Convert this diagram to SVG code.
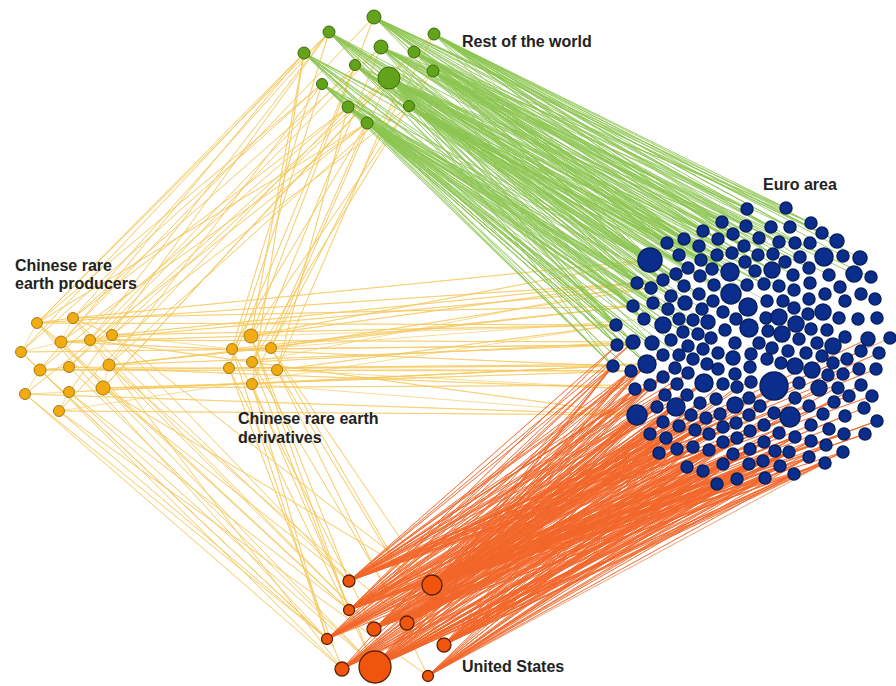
<svg xmlns="http://www.w3.org/2000/svg" width="896" height="686" viewBox="0 0 896 686">
<style>
.e{fill:#0b2d8c;stroke:#08205f;stroke-width:1.5}
.g{fill:#62a31b;stroke:#3b6a0c;stroke-width:1}
.y{fill:#f2ab10;stroke:#9b7313;stroke-width:.9}
.u{fill:#f0550e;stroke:#5e2205;stroke-width:1.3}
.ly{fill:none;stroke:#f5c95e;stroke-width:.65;stroke-linejoin:round}
.lg{fill:none;stroke:#8dc653;stroke-width:.55;stroke-linejoin:round}
.lo{fill:none;stroke:#f2672b;stroke-width:.65;stroke-linejoin:round}
text{font-family:"Liberation Sans",Arial,sans-serif;font-weight:bold;font-size:16px;fill:#222}
</style>
<rect width="896" height="686" fill="#fff"/>
<g id="connectors">
<path class="ly" d="M37 323L304 53 37 323 329 32 37 323 322 84 37 323 367 123 37 323 327 639 37 323 349 610 37 323 616 325 37 323 637 283 37 323 73 318 37 323 61 342 37 323 21 352"/>
<path class="ly" d="M73 318L329 32 73 318 381 47 73 318 348 107 73 318 349 581 73 318 342 669 73 318 633 306 73 318 650 260 73 318 112 335 73 318 61 342"/>
<path class="ly" d="M21 352L304 53 21 352 322 84 21 352 327 639 21 352 617 345 21 352 40 370 21 352 61 342"/>
<path class="ly" d="M61 342L374 17 61 342 367 123 61 342 349 610 61 342 375 667 61 342 613 366 61 342 651 288 61 342 251 336 61 342 90 340"/>
<path class="ly" d="M90 340L329 32 90 340 355 65 90 340 374 629 90 340 633 342 90 340 637 415 90 340 112 335"/>
<path class="ly" d="M112 335L389 78 112 335 409 106 112 335 349 581 112 335 432 585 112 335 616 325 112 335 663 280 112 335 232 349"/>
<path class="ly" d="M40 370L304 53 40 370 348 107 40 370 342 669 40 370 327 639 40 370 631 371 40 370 647 364 40 370 69 367 40 370 25 394"/>
<path class="ly" d="M69 367L381 47 69 367 434 34 69 367 375 667 69 367 635 389 69 367 229 368"/>
<path class="ly" d="M109 365L322 84 109 365 433 71 109 365 374 629 109 365 407 623 109 365 617 345 109 365 633 306 109 365 271 348 109 365 103 388"/>
<path class="ly" d="M25 394L367 123 25 394 342 669 25 394 327 639 25 394 637 415 25 394 69 392"/>
<path class="ly" d="M69 392L329 32 69 392 349 610 69 392 375 667 69 392 613 366 69 392 59 411"/>
<path class="ly" d="M103 388L389 78 103 388 414 52 103 388 349 581 103 388 432 585 103 388 650 385 103 388 631 371 103 388 252 384"/>
<path class="ly" d="M59 411L348 107 59 411 327 639 59 411 428 676 59 411 637 415 59 411 616 325"/>
<path class="ly" d="M251 336L304 53 251 336 374 17 251 336 433 71 251 336 349 581 251 336 349 610 251 336 637 283 251 336 650 260 251 336 616 325"/>
<path class="ly" d="M232 349L329 32 232 349 367 123 232 349 327 639 232 349 374 629 232 349 633 306 232 349 617 345"/>
<path class="ly" d="M271 348L389 78 271 348 434 34 271 348 432 585 271 348 444 645 271 348 651 288 271 348 644 319"/>
<path class="ly" d="M229 368L322 84 229 368 355 65 229 368 342 669 229 368 375 667 229 368 613 366 229 368 631 371"/>
<path class="ly" d="M252 362L381 47 252 362 409 106 252 362 349 610 252 362 407 623 252 362 633 342 252 362 663 280"/>
<path class="ly" d="M277 370L414 52 277 370 348 107 277 370 428 676 277 370 444 645 277 370 616 325 277 370 635 389"/>
<path class="ly" d="M252 384L304 53 252 384 367 123 252 384 327 639 252 384 375 667 252 384 647 364 252 384 637 415"/>
<path class="lg" d="M374 17L650 260 374 17 667 243 374 17 684 239 374 17 703 231 374 17 722 222 374 17 747 209 374 17 786 208 374 17 811 223 374 17 771 227 374 17 679 255 374 17 701 260 374 17 637 283 374 17 663 280 374 17 730 272 374 17 746 226 374 17 733 234 374 17 699 246 374 17 718 239 374 17 837 241 374 17 822 233 374 17 758 255"/>
<path class="lg" d="M434 34L747 209 434 34 786 208 434 34 811 223 434 34 790 227 434 34 771 227 434 34 822 233 434 34 837 241 434 34 795 243 434 34 779 242 434 34 746 226 434 34 733 234 434 34 722 222 434 34 703 231 434 34 718 239 434 34 744 246 434 34 758 255 434 34 773 254 434 34 800 257 434 34 824 257 434 34 843 256 434 34 860 258 434 34 650 260 434 34 667 243 434 34 684 239"/>
<path class="lg" d="M389 78L650 260 389 78 667 243 389 78 684 239 389 78 703 231 389 78 722 222 389 78 679 255 389 78 701 260 389 78 717 255 389 78 732 253 389 78 637 283 389 78 663 280 389 78 676 274 389 78 688 268 389 78 712 269 389 78 730 272 389 78 651 288 389 78 671 296 389 78 699 294 389 78 685 303 389 78 633 306 389 78 653 303 389 78 668 309 389 78 644 319 389 78 616 325 389 78 663 325 389 78 633 342 389 78 617 345 389 78 652 343 389 78 647 364 389 78 613 366 389 78 755 271 389 78 772 270 389 78 747 285 389 78 764 284 389 78 731 294 389 78 746 226 389 78 733 234 389 78 699 246 389 78 718 239"/>
<path class="lg" d="M381 47L650 260 381 47 684 239 381 47 703 231 381 47 722 222 381 47 747 209 381 47 786 208 381 47 701 260 381 47 717 255 381 47 730 272 381 47 663 280 381 47 637 283 381 47 651 288 381 47 616 325 381 47 633 306 381 47 744 246 381 47 759 238 381 47 779 242 381 47 795 243 381 47 772 270 381 47 755 271"/>
<path class="lg" d="M414 52L747 209 414 52 722 222 414 52 746 226 414 52 771 227 414 52 790 227 414 52 811 223 414 52 733 234 414 52 703 231 414 52 759 238 414 52 779 242 414 52 744 246 414 52 758 255 414 52 773 254 414 52 785 262 414 52 650 260 414 52 667 243 414 52 699 246 414 52 730 272 414 52 712 269 414 52 747 285"/>
<path class="lg" d="M433 71L650 260 433 71 667 243 433 71 684 239 433 71 679 255 433 71 701 260 433 71 717 255 433 71 732 253 433 71 745 262 433 71 758 255 433 71 772 270 433 71 755 271 433 71 793 275 433 71 809 268 433 71 829 275 433 71 854 274 433 71 871 277 433 71 637 283 433 71 663 280 433 71 688 268 433 71 730 272"/>
<path class="lg" d="M329 32L650 260 329 32 637 283 329 32 651 288 329 32 633 306 329 32 616 325 329 32 644 319 329 32 667 243 329 32 684 239 329 32 703 231 329 32 679 255 329 32 663 280 329 32 676 274 329 32 700 276 329 32 730 272 329 32 617 345 329 32 633 342"/>
<path class="lg" d="M304 53L650 260 304 53 637 283 304 53 616 325 304 53 633 306 304 53 653 303 304 53 663 325 304 53 633 342 304 53 617 345 304 53 613 366 304 53 647 364 304 53 679 255 304 53 667 243 304 53 701 260"/>
<path class="lg" d="M355 65L650 260 355 65 637 283 355 65 663 280 355 65 676 274 355 65 688 268 355 65 700 276 355 65 651 288 355 65 684 286 355 65 699 294 355 65 671 296 355 65 616 325 355 65 633 306 355 65 644 319 355 65 703 231 355 65 722 222"/>
<path class="lg" d="M322 84L650 260 322 84 637 283 322 84 651 288 322 84 633 306 322 84 616 325 322 84 617 345 322 84 613 366 322 84 631 371 322 84 647 364 322 84 663 355 322 84 679 319 322 84 693 320 322 84 708 322"/>
<path class="lg" d="M348 107L650 260 348 107 637 283 348 107 663 280 348 107 651 288 348 107 671 296 348 107 633 306 348 107 653 303 348 107 668 309 348 107 644 319 348 107 663 325 348 107 679 319 348 107 616 325 348 107 633 342 348 107 652 343 348 107 617 345 348 107 613 366 348 107 647 364 348 107 683 332 348 107 698 334 348 107 711 338"/>
<path class="lg" d="M409 106L650 260 409 106 667 243 409 106 679 255 409 106 701 260 409 106 717 255 409 106 732 253 409 106 637 283 409 106 663 280 409 106 676 274 409 106 700 276 409 106 712 269 409 106 730 272 409 106 684 286 409 106 699 294 409 106 714 285 409 106 747 285 409 106 764 284 409 106 779 286 409 106 731 294 409 106 685 303 409 106 702 309 409 106 723 312 409 106 748 307 409 106 767 301"/>
<path class="lg" d="M367 123L650 260 367 123 637 283 367 123 651 288 367 123 663 280 367 123 671 296 367 123 633 306 367 123 616 325 367 123 644 319 367 123 663 325 367 123 683 332 367 123 698 334 367 123 633 342 367 123 652 343 367 123 671 340 367 123 617 345 367 123 613 366 367 123 647 364 367 123 663 355 367 123 679 355 367 123 631 371"/>
<path class="lo" d="M432 585L613 366 432 585 631 371 432 585 647 364 432 585 635 389 432 585 650 385 432 585 663 377 432 585 637 415 432 585 657 407 432 585 676 407 432 585 665 395 432 585 687 395 432 585 663 422 432 585 679 426 432 585 650 434 432 585 666 438 432 585 659 453 432 585 677 449 432 585 693 447 432 585 687 467 432 585 703 471 432 585 717 484 432 585 737 479 432 585 765 478 432 585 709 450 432 585 695 430 432 585 691 415 432 585 704 383 432 585 723 464 432 585 733 454 432 585 749 464 432 585 763 461 432 585 780 466 432 585 794 474 432 585 709 434 432 585 723 442 432 585 706 418 432 585 720 414 432 585 700 403 432 585 716 399 432 585 735 405 432 585 677 384 432 585 688 373 432 585 774 386 432 585 790 417 432 585 750 449 432 585 775 451 432 585 789 452 432 585 809 457 432 585 825 463 432 585 843 452 432 585 779 433 432 585 795 437 432 585 811 441 432 585 826 445 432 585 844 434 432 585 865 434 432 585 877 421 432 585 864 408 432 585 845 416"/>
<path class="lo" d="M375 667L613 366 375 667 631 371 375 667 647 364 375 667 635 389 375 667 650 385 375 667 637 415 375 667 657 407 375 667 676 407 375 667 665 395 375 667 663 422 375 667 679 426 375 667 650 434 375 667 666 438 375 667 659 453 375 667 677 449 375 667 693 447 375 667 687 467 375 667 703 471 375 667 717 484 375 667 737 479 375 667 765 478 375 667 709 450 375 667 695 430 375 667 723 464 375 667 733 454 375 667 749 464 375 667 763 461 375 667 780 466 375 667 794 474 375 667 723 442 375 667 737 438 375 667 750 449 375 667 775 451 375 667 789 452 375 667 809 457 375 667 825 463 375 667 843 452 375 667 826 445 375 667 811 441 375 667 795 437 375 667 779 433 375 667 764 442 375 667 749 431"/>
<path class="lo" d="M349 581L617 345 349 581 633 342 349 581 613 366 349 581 631 371 349 581 647 364 349 581 663 355 349 581 675 368 349 581 688 373 349 581 704 383 349 581 635 389 349 581 650 385 349 581 663 377 349 581 677 384 349 581 637 415 349 581 657 407 349 581 676 407 349 581 691 415 349 581 706 418 349 581 720 414 349 581 735 405 349 581 749 415 349 581 759 406 349 581 773 412 349 581 790 417 349 581 809 406 349 581 834 402 349 581 849 396 349 581 872 396 349 581 876 369 349 581 859 369 349 581 879 353 349 581 861 351 349 581 868 339 349 581 890 338"/>
<path class="lo" d="M349 610L613 366 349 610 631 371 349 610 635 389 349 610 650 385 349 610 637 415 349 610 657 407 349 610 663 422 349 610 650 434 349 610 666 438 349 610 679 426 349 610 695 430 349 610 709 434 349 610 723 427 349 610 736 423 349 610 764 425 349 610 779 433 349 610 795 437 349 610 811 425 349 610 829 429 349 610 844 434 349 610 865 434 349 610 877 421 349 610 617 345 349 610 633 342 349 610 647 364 349 610 663 377 349 610 677 384 349 610 704 383 349 610 691 415 349 610 706 418 349 610 720 414"/>
<path class="lo" d="M374 629L637 415 374 629 663 422 374 629 650 434 374 629 666 438 374 629 659 453 374 629 677 449 374 629 693 447 374 629 709 450 374 629 733 454 374 629 750 449 374 629 775 451 374 629 789 452 374 629 687 467 374 629 703 471 374 629 723 464 374 629 749 464 374 629 763 461 374 629 780 466 374 629 717 484 374 629 737 479 374 629 765 478 374 629 794 474 374 629 809 457 374 629 825 463 374 629 631 371 374 629 647 364 374 629 635 389 374 629 650 385 374 629 657 407 374 629 676 407 374 629 691 415 374 629 706 418 374 629 720 414 374 629 735 405"/>
<path class="lo" d="M407 623L631 371 407 623 647 364 407 623 663 377 407 623 677 384 407 623 688 373 407 623 704 383 407 623 723 384 407 623 737 387 407 623 749 381 407 623 774 386 407 623 799 383 407 623 819 388 407 623 838 387 407 623 861 385 407 623 650 434 407 623 666 438 407 623 679 426 407 623 695 430 407 623 709 434 407 623 723 442 407 623 737 438 407 623 749 431 407 623 764 442 407 623 613 366 407 623 635 389 407 623 650 385 407 623 637 415 407 623 657 407 407 623 676 407 407 623 665 395 407 623 687 395 407 623 700 403 407 623 716 399"/>
<path class="lo" d="M327 639L613 366 327 639 635 389 327 639 637 415 327 639 650 434 327 639 659 453 327 639 663 422 327 639 666 438 327 639 677 449 327 639 687 467 327 639 703 471 327 639 717 484 327 639 693 447 327 639 709 450 327 639 631 371 327 639 650 385 327 639 657 407 327 639 676 407 327 639 679 426 327 639 695 430 327 639 709 434 327 639 723 442 327 639 737 438"/>
<path class="lo" d="M444 645L637 415 444 645 650 434 444 645 659 453 444 645 677 449 444 645 693 447 444 645 687 467 444 645 703 471 444 645 717 484 444 645 737 479 444 645 765 478 444 645 794 474 444 645 780 466 444 645 763 461 444 645 749 464 444 645 723 464 444 645 733 454 444 645 750 449 444 645 775 451 444 645 789 452 444 645 809 457 444 645 825 463 444 645 843 452 444 645 663 422 444 645 679 426 444 645 695 430 444 645 709 434 444 645 723 442 444 645 737 438 444 645 749 431 444 645 764 442 444 645 779 433 444 645 795 437 444 645 811 441"/>
<path class="lo" d="M342 669L637 415 342 669 650 434 342 669 659 453 342 669 687 467 342 669 703 471 342 669 717 484 342 669 737 479 342 669 677 449 342 669 693 447 342 669 666 438 342 669 679 426 342 669 663 422 342 669 635 389 342 669 613 366 342 669 657 407 342 669 676 407 342 669 709 450 342 669 723 464 342 669 749 464 342 669 765 478"/>
<path class="lo" d="M428 676L659 453 428 676 687 467 428 676 703 471 428 676 717 484 428 676 737 479 428 676 765 478 428 676 794 474 428 676 780 466 428 676 763 461 428 676 749 464 428 676 723 464 428 676 733 454 428 676 709 450 428 676 677 449 428 676 693 447 428 676 750 449 428 676 775 451 428 676 789 452 428 676 809 457 428 676 825 463"/>
</g>
<g id="producers">
<g id="p1"><circle class="y" cx="37" cy="323" r="5.5"/></g>
<g id="p2"><circle class="y" cx="73" cy="318" r="5.5"/></g>
<g id="p3"><circle class="y" cx="21" cy="352" r="5.5"/></g>
<g id="p4"><circle class="y" cx="61" cy="342" r="6"/></g>
<g id="p5"><circle class="y" cx="90" cy="340" r="5.5"/></g>
<g id="p6"><circle class="y" cx="112" cy="335" r="5.5"/></g>
<g id="p7"><circle class="y" cx="40" cy="370" r="6"/></g>
<g id="p8"><circle class="y" cx="69" cy="367" r="5.5"/></g>
<g id="p9"><circle class="y" cx="109" cy="365" r="6"/></g>
<g id="p10"><circle class="y" cx="25" cy="394" r="5.5"/></g>
<g id="p11"><circle class="y" cx="69" cy="392" r="5.5"/></g>
<g id="p12"><circle class="y" cx="103" cy="388" r="7"/></g>
<g id="p13"><circle class="y" cx="59" cy="411" r="5.5"/></g>
</g>
<g id="derivatives">
<g id="d1"><circle class="y" cx="251" cy="336" r="7"/></g>
<g id="d2"><circle class="y" cx="232" cy="349" r="5.5"/></g>
<g id="d3"><circle class="y" cx="271" cy="348" r="5.5"/></g>
<g id="d4"><circle class="y" cx="229" cy="368" r="5.5"/></g>
<g id="d5"><circle class="y" cx="252" cy="362" r="5.5"/></g>
<g id="d6"><circle class="y" cx="277" cy="370" r="5.5"/></g>
<g id="d7"><circle class="y" cx="252" cy="384" r="5.5"/></g>
</g>
<g id="restofworld">
<g id="g1"><circle class="g" cx="374" cy="17" r="7"/></g>
<g id="g2"><circle class="g" cx="329" cy="32" r="6"/></g>
<g id="g3"><circle class="g" cx="434" cy="34" r="6"/></g>
<g id="g4"><circle class="g" cx="304" cy="53" r="6"/></g>
<g id="g5"><circle class="g" cx="381" cy="47" r="7"/></g>
<g id="g6"><circle class="g" cx="355" cy="65" r="5.5"/></g>
<g id="g7"><circle class="g" cx="414" cy="52" r="6"/></g>
<g id="g8"><circle class="g" cx="389" cy="78" r="11"/></g>
<g id="g9"><circle class="g" cx="433" cy="71" r="6"/></g>
<g id="g10"><circle class="g" cx="322" cy="84" r="5.5"/></g>
<g id="g11"><circle class="g" cx="348" cy="107" r="6"/></g>
<g id="g12"><circle class="g" cx="409" cy="106" r="5.5"/></g>
<g id="g13"><circle class="g" cx="367" cy="123" r="6"/></g>
</g>
<g id="unitedstates">
<g id="o1"><circle class="u" cx="349" cy="581" r="6"/></g>
<g id="o2"><circle class="u" cx="432" cy="585" r="10"/></g>
<g id="o3"><circle class="u" cx="349" cy="610" r="5.5"/></g>
<g id="o4"><circle class="u" cx="374" cy="629" r="7"/></g>
<g id="o5"><circle class="u" cx="407" cy="623" r="7"/></g>
<g id="o6"><circle class="u" cx="327" cy="639" r="5.5"/></g>
<g id="o7"><circle class="u" cx="444" cy="645" r="7"/></g>
<g id="o8"><circle class="u" cx="342" cy="669" r="7"/></g>
<g id="o9"><circle class="u" cx="375" cy="667" r="16"/></g>
<g id="o10"><circle class="u" cx="428" cy="676" r="5.5"/></g>
</g>
<g id="euroarea">
<g id="e1"><circle class="e" cx="747" cy="209" r="6"/></g>
<g id="e2"><circle class="e" cx="786" cy="208" r="6"/></g>
<g id="e3"><circle class="e" cx="722" cy="222" r="6"/></g>
<g id="e4"><circle class="e" cx="746" cy="226" r="6"/></g>
<g id="e5"><circle class="e" cx="811" cy="223" r="6"/></g>
<g id="e6"><circle class="e" cx="771" cy="227" r="6"/></g>
<g id="e7"><circle class="e" cx="790" cy="227" r="6"/></g>
<g id="e8"><circle class="e" cx="703" cy="231" r="6"/></g>
<g id="e9"><circle class="e" cx="733" cy="234" r="6"/></g>
<g id="e10"><circle class="e" cx="822" cy="233" r="6"/></g>
<g id="e11"><circle class="e" cx="667" cy="243" r="6"/></g>
<g id="e12"><circle class="e" cx="684" cy="239" r="6"/></g>
<g id="e13"><circle class="e" cx="699" cy="246" r="6"/></g>
<g id="e14"><circle class="e" cx="718" cy="239" r="6"/></g>
<g id="e15"><circle class="e" cx="744" cy="246" r="6"/></g>
<g id="e16"><circle class="e" cx="759" cy="238" r="6"/></g>
<g id="e17"><circle class="e" cx="779" cy="242" r="6"/></g>
<g id="e18"><circle class="e" cx="795" cy="243" r="6"/></g>
<g id="e19"><circle class="e" cx="810" cy="243" r="6"/></g>
<g id="e20"><circle class="e" cx="837" cy="241" r="7"/></g>
<g id="e21"><circle class="e" cx="650" cy="260" r="12"/></g>
<g id="e22"><circle class="e" cx="679" cy="255" r="6"/></g>
<g id="e23"><circle class="e" cx="701" cy="260" r="6"/></g>
<g id="e24"><circle class="e" cx="717" cy="255" r="6"/></g>
<g id="e25"><circle class="e" cx="732" cy="253" r="6"/></g>
<g id="e26"><circle class="e" cx="745" cy="262" r="6"/></g>
<g id="e27"><circle class="e" cx="758" cy="255" r="6"/></g>
<g id="e28"><circle class="e" cx="773" cy="254" r="6"/></g>
<g id="e29"><circle class="e" cx="785" cy="262" r="6"/></g>
<g id="e30"><circle class="e" cx="800" cy="257" r="6"/></g>
<g id="e31"><circle class="e" cx="824" cy="257" r="9"/></g>
<g id="e32"><circle class="e" cx="843" cy="256" r="6"/></g>
<g id="e33"><circle class="e" cx="860" cy="258" r="7"/></g>
<g id="e34"><circle class="e" cx="688" cy="268" r="6"/></g>
<g id="e35"><circle class="e" cx="712" cy="269" r="6"/></g>
<g id="e36"><circle class="e" cx="730" cy="272" r="9"/></g>
<g id="e37"><circle class="e" cx="755" cy="271" r="6"/></g>
<g id="e38"><circle class="e" cx="772" cy="270" r="8"/></g>
<g id="e39"><circle class="e" cx="793" cy="275" r="6"/></g>
<g id="e40"><circle class="e" cx="809" cy="268" r="6"/></g>
<g id="e41"><circle class="e" cx="829" cy="275" r="6"/></g>
<g id="e42"><circle class="e" cx="854" cy="274" r="8"/></g>
<g id="e43"><circle class="e" cx="871" cy="277" r="6"/></g>
<g id="e44"><circle class="e" cx="676" cy="274" r="6"/></g>
<g id="e45"><circle class="e" cx="700" cy="276" r="6"/></g>
<g id="e46"><circle class="e" cx="637" cy="283" r="6"/></g>
<g id="e47"><circle class="e" cx="663" cy="280" r="6"/></g>
<g id="e48"><circle class="e" cx="714" cy="285" r="6"/></g>
<g id="e49"><circle class="e" cx="747" cy="285" r="6"/></g>
<g id="e50"><circle class="e" cx="764" cy="284" r="6"/></g>
<g id="e51"><circle class="e" cx="779" cy="286" r="6"/></g>
<g id="e52"><circle class="e" cx="810" cy="283" r="6"/></g>
<g id="e53"><circle class="e" cx="840" cy="287" r="6"/></g>
<g id="e54"><circle class="e" cx="651" cy="288" r="6"/></g>
<g id="e55"><circle class="e" cx="684" cy="286" r="6"/></g>
<g id="e56"><circle class="e" cx="794" cy="290" r="6"/></g>
<g id="e57"><circle class="e" cx="825" cy="294" r="6"/></g>
<g id="e58"><circle class="e" cx="861" cy="294" r="6"/></g>
<g id="e59"><circle class="e" cx="671" cy="296" r="6"/></g>
<g id="e60"><circle class="e" cx="699" cy="294" r="6"/></g>
<g id="e61"><circle class="e" cx="731" cy="294" r="10"/></g>
<g id="e62"><circle class="e" cx="875" cy="299" r="6"/></g>
<g id="e63"><circle class="e" cx="685" cy="303" r="7"/></g>
<g id="e64"><circle class="e" cx="713" cy="301" r="6"/></g>
<g id="e65"><circle class="e" cx="633" cy="306" r="6"/></g>
<g id="e66"><circle class="e" cx="653" cy="303" r="6"/></g>
<g id="e67"><circle class="e" cx="668" cy="309" r="6"/></g>
<g id="e68"><circle class="e" cx="702" cy="309" r="6"/></g>
<g id="e69"><circle class="e" cx="723" cy="312" r="6"/></g>
<g id="e70"><circle class="e" cx="748" cy="307" r="9"/></g>
<g id="e71"><circle class="e" cx="767" cy="301" r="6"/></g>
<g id="e72"><circle class="e" cx="783" cy="301" r="6"/></g>
<g id="e73"><circle class="e" cx="809" cy="299" r="6"/></g>
<g id="e74"><circle class="e" cx="845" cy="301" r="6"/></g>
<g id="e75"><circle class="e" cx="616" cy="325" r="6"/></g>
<g id="e76"><circle class="e" cx="644" cy="319" r="6"/></g>
<g id="e77"><circle class="e" cx="663" cy="325" r="8"/></g>
<g id="e78"><circle class="e" cx="679" cy="319" r="6"/></g>
<g id="e79"><circle class="e" cx="693" cy="320" r="6"/></g>
<g id="e80"><circle class="e" cx="708" cy="322" r="7"/></g>
<g id="e81"><circle class="e" cx="725" cy="330" r="6"/></g>
<g id="e82"><circle class="e" cx="736" cy="319" r="6"/></g>
<g id="e83"><circle class="e" cx="749" cy="328" r="9"/></g>
<g id="e84"><circle class="e" cx="766" cy="318" r="6"/></g>
<g id="e85"><circle class="e" cx="779" cy="317" r="8"/></g>
<g id="e86"><circle class="e" cx="794" cy="308" r="6"/></g>
<g id="e87"><circle class="e" cx="808" cy="314" r="6"/></g>
<g id="e88"><circle class="e" cx="823" cy="312" r="8"/></g>
<g id="e89"><circle class="e" cx="839" cy="318" r="6"/></g>
<g id="e90"><circle class="e" cx="858" cy="319" r="6"/></g>
<g id="e91"><circle class="e" cx="877" cy="318" r="6"/></g>
<g id="e92"><circle class="e" cx="683" cy="332" r="6"/></g>
<g id="e93"><circle class="e" cx="698" cy="334" r="6"/></g>
<g id="e94"><circle class="e" cx="711" cy="338" r="6"/></g>
<g id="e96"><circle class="e" cx="768" cy="331" r="6"/></g>
<g id="e97"><circle class="e" cx="782" cy="334" r="8"/></g>
<g id="e98"><circle class="e" cx="796" cy="324" r="8"/></g>
<g id="e99"><circle class="e" cx="811" cy="329" r="6"/></g>
<g id="e100"><circle class="e" cx="827" cy="330" r="6"/></g>
<g id="e101"><circle class="e" cx="845" cy="337" r="6"/></g>
<g id="e102"><circle class="e" cx="868" cy="339" r="7"/></g>
<g id="e103"><circle class="e" cx="890" cy="338" r="6"/></g>
<g id="e104"><circle class="e" cx="633" cy="342" r="7"/></g>
<g id="e105"><circle class="e" cx="652" cy="343" r="7"/></g>
<g id="e106"><circle class="e" cx="671" cy="340" r="6"/></g>
<g id="e107"><circle class="e" cx="617" cy="345" r="6"/></g>
<g id="e108"><circle class="e" cx="688" cy="346" r="6"/></g>
<g id="e109"><circle class="e" cx="703" cy="349" r="6"/></g>
<g id="e110"><circle class="e" cx="718" cy="353" r="6"/></g>
<g id="e111"><circle class="e" cx="735" cy="343" r="6"/></g>
<g id="e112"><circle class="e" cx="759" cy="343" r="6"/></g>
<g id="e113"><circle class="e" cx="772" cy="348" r="6"/></g>
<g id="e114"><circle class="e" cx="788" cy="351" r="6"/></g>
<g id="e115"><circle class="e" cx="799" cy="339" r="6"/></g>
<g id="e116"><circle class="e" cx="817" cy="343" r="6"/></g>
<g id="e117"><circle class="e" cx="833" cy="346" r="8"/></g>
<g id="e118"><circle class="e" cx="847" cy="359" r="6"/></g>
<g id="e119"><circle class="e" cx="861" cy="351" r="6"/></g>
<g id="e120"><circle class="e" cx="879" cy="353" r="6"/></g>
<g id="e121"><circle class="e" cx="663" cy="355" r="6"/></g>
<g id="e122"><circle class="e" cx="679" cy="355" r="6"/></g>
<g id="e123"><circle class="e" cx="693" cy="359" r="6"/></g>
<g id="e124"><circle class="e" cx="707" cy="364" r="6"/></g>
<g id="e125"><circle class="e" cx="733" cy="358" r="7"/></g>
<g id="e126"><circle class="e" cx="751" cy="354" r="6"/></g>
<g id="e127"><circle class="e" cx="767" cy="359" r="6"/></g>
<g id="e128"><circle class="e" cx="781" cy="363" r="6"/></g>
<g id="e129"><circle class="e" cx="795" cy="366" r="8"/></g>
<g id="e130"><circle class="e" cx="806" cy="353" r="6"/></g>
<g id="e131"><circle class="e" cx="822" cy="356" r="6"/></g>
<g id="e132"><circle class="e" cx="833" cy="363" r="6"/></g>
<g id="e133"><circle class="e" cx="613" cy="366" r="6"/></g>
<g id="e134"><circle class="e" cx="631" cy="371" r="6"/></g>
<g id="e135"><circle class="e" cx="647" cy="364" r="9"/></g>
<g id="e136"><circle class="e" cx="675" cy="368" r="6"/></g>
<g id="e137"><circle class="e" cx="688" cy="373" r="6"/></g>
<g id="e138"><circle class="e" cx="718" cy="369" r="6"/></g>
<g id="e139"><circle class="e" cx="735" cy="374" r="6"/></g>
<g id="e140"><circle class="e" cx="750" cy="367" r="6"/></g>
<g id="e142"><circle class="e" cx="812" cy="370" r="8"/></g>
<g id="e143"><circle class="e" cx="859" cy="369" r="6"/></g>
<g id="e144"><circle class="e" cx="876" cy="369" r="6"/></g>
<g id="e145"><circle class="e" cx="635" cy="389" r="6"/></g>
<g id="e146"><circle class="e" cx="650" cy="385" r="6"/></g>
<g id="e147"><circle class="e" cx="663" cy="377" r="6"/></g>
<g id="e148"><circle class="e" cx="677" cy="384" r="6"/></g>
<g id="e149"><circle class="e" cx="704" cy="383" r="9"/></g>
<g id="e150"><circle class="e" cx="723" cy="384" r="6"/></g>
<g id="e151"><circle class="e" cx="737" cy="387" r="6"/></g>
<g id="e152"><circle class="e" cx="751" cy="382" r="6"/></g>
<g id="e153"><circle class="e" cx="774" cy="386" r="14"/></g>
<g id="e154"><circle class="e" cx="799" cy="383" r="6"/></g>
<g id="e155"><circle class="e" cx="819" cy="388" r="8"/></g>
<g id="e156"><circle class="e" cx="828" cy="375" r="6"/></g>
<g id="e157"><circle class="e" cx="843" cy="374" r="6"/></g>
<g id="e158"><circle class="e" cx="838" cy="388" r="6"/></g>
<g id="e159"><circle class="e" cx="861" cy="385" r="6"/></g>
<g id="e160"><circle class="e" cx="665" cy="395" r="6"/></g>
<g id="e161"><circle class="e" cx="687" cy="395" r="6"/></g>
<g id="e162"><circle class="e" cx="700" cy="403" r="6"/></g>
<g id="e163"><circle class="e" cx="716" cy="399" r="6"/></g>
<g id="e164"><circle class="e" cx="735" cy="405" r="8"/></g>
<g id="e165"><circle class="e" cx="749" cy="398" r="6"/></g>
<g id="e166"><circle class="e" cx="637" cy="415" r="10"/></g>
<g id="e167"><circle class="e" cx="657" cy="407" r="6"/></g>
<g id="e168"><circle class="e" cx="676" cy="407" r="9"/></g>
<g id="e169"><circle class="e" cx="795" cy="398" r="6"/></g>
<g id="e170"><circle class="e" cx="834" cy="402" r="6"/></g>
<g id="e171"><circle class="e" cx="849" cy="396" r="6"/></g>
<g id="e172"><circle class="e" cx="872" cy="396" r="6"/></g>
<g id="e173"><circle class="e" cx="760" cy="406" r="6"/></g>
<g id="e174"><circle class="e" cx="774" cy="413" r="6"/></g>
<g id="e175"><circle class="e" cx="790" cy="417" r="10"/></g>
<g id="e176"><circle class="e" cx="809" cy="406" r="6"/></g>
<g id="e177"><circle class="e" cx="823" cy="414" r="6"/></g>
<g id="e178"><circle class="e" cx="845" cy="416" r="6"/></g>
<g id="e179"><circle class="e" cx="864" cy="408" r="6"/></g>
<g id="e180"><circle class="e" cx="877" cy="421" r="6"/></g>
<g id="e181"><circle class="e" cx="691" cy="415" r="6"/></g>
<g id="e182"><circle class="e" cx="706" cy="418" r="6"/></g>
<g id="e183"><circle class="e" cx="720" cy="414" r="6"/></g>
<g id="e184"><circle class="e" cx="749" cy="415" r="6"/></g>
<g id="e185"><circle class="e" cx="663" cy="422" r="6"/></g>
<g id="e186"><circle class="e" cx="679" cy="426" r="6"/></g>
<g id="e187"><circle class="e" cx="695" cy="430" r="6"/></g>
<g id="e188"><circle class="e" cx="709" cy="434" r="6"/></g>
<g id="e189"><circle class="e" cx="723" cy="427" r="6"/></g>
<g id="e190"><circle class="e" cx="736" cy="423" r="6"/></g>
<g id="e191"><circle class="e" cx="764" cy="425" r="6"/></g>
<g id="e192"><circle class="e" cx="811" cy="425" r="6"/></g>
<g id="e193"><circle class="e" cx="829" cy="429" r="6"/></g>
<g id="e194"><circle class="e" cx="650" cy="434" r="6"/></g>
<g id="e195"><circle class="e" cx="666" cy="438" r="6"/></g>
<g id="e196"><circle class="e" cx="723" cy="442" r="6"/></g>
<g id="e197"><circle class="e" cx="737" cy="438" r="6"/></g>
<g id="e198"><circle class="e" cx="750" cy="431" r="6"/></g>
<g id="e199"><circle class="e" cx="779" cy="433" r="6"/></g>
<g id="e200"><circle class="e" cx="795" cy="437" r="6"/></g>
<g id="e201"><circle class="e" cx="811" cy="441" r="6"/></g>
<g id="e202"><circle class="e" cx="826" cy="445" r="6"/></g>
<g id="e203"><circle class="e" cx="844" cy="434" r="6"/></g>
<g id="e204"><circle class="e" cx="865" cy="434" r="6"/></g>
<g id="e205"><circle class="e" cx="659" cy="453" r="6"/></g>
<g id="e206"><circle class="e" cx="677" cy="449" r="6"/></g>
<g id="e207"><circle class="e" cx="693" cy="447" r="6"/></g>
<g id="e208"><circle class="e" cx="709" cy="450" r="6"/></g>
<g id="e209"><circle class="e" cx="733" cy="454" r="6"/></g>
<g id="e210"><circle class="e" cx="750" cy="449" r="6"/></g>
<g id="e211"><circle class="e" cx="764" cy="442" r="6"/></g>
<g id="e212"><circle class="e" cx="775" cy="451" r="6"/></g>
<g id="e213"><circle class="e" cx="789" cy="452" r="6"/></g>
<g id="e214"><circle class="e" cx="809" cy="457" r="6"/></g>
<g id="e215"><circle class="e" cx="825" cy="463" r="6"/></g>
<g id="e216"><circle class="e" cx="843" cy="452" r="6"/></g>
<g id="e217"><circle class="e" cx="687" cy="467" r="6"/></g>
<g id="e218"><circle class="e" cx="703" cy="471" r="6"/></g>
<g id="e219"><circle class="e" cx="723" cy="464" r="6"/></g>
<g id="e220"><circle class="e" cx="749" cy="464" r="6"/></g>
<g id="e221"><circle class="e" cx="763" cy="461" r="6"/></g>
<g id="e222"><circle class="e" cx="780" cy="466" r="6"/></g>
<g id="e223"><circle class="e" cx="794" cy="474" r="6"/></g>
<g id="e224"><circle class="e" cx="717" cy="484" r="6"/></g>
<g id="e225"><circle class="e" cx="737" cy="479" r="6"/></g>
<g id="e226"><circle class="e" cx="765" cy="478" r="6"/></g>
</g>
<g id="labels">
<text x="462" y="47">Rest of the world</text>
<text x="763" y="190">Euro area</text>
<text x="15" y="271">Chinese rare</text>
<text x="15" y="289">earth producers</text>
<text x="238" y="424">Chinese rare earth</text>
<text x="238" y="443">derivatives</text>
<text x="462" y="672">United States</text>
</g>
</svg>
